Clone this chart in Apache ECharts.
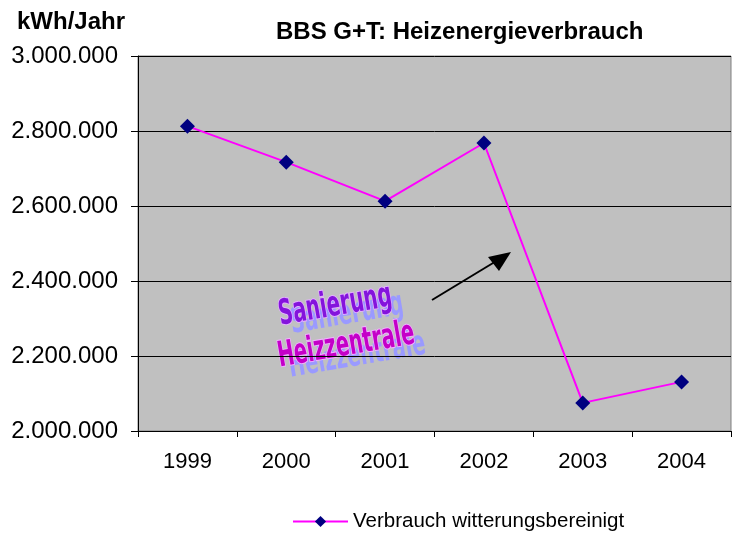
<!DOCTYPE html>
<html>
<head>
<meta charset="utf-8">
<script src="https://cdn.jsdelivr.net/npm/echarts@6/dist/echarts.min.js"></script>
<style>
  html, body { margin: 0; padding: 0; background: #fff; }
  #chart { width: 736px; height: 533px; }
</style>
</head>
<body>
<div id="chart"></div>
<script>
// Werte
const years = ['1999', '2000', '2001', '2002', '2003', '2004'];
const verbrauch = [2813000, 2717000, 2613000, 2768000, 2075000, 2131000];
const yMin = 2000000;
const yMax = 3000000;
const yStep = 200000;

const fmt = v => String(v).replace(/\B(?=(\d{3})+(?!\d))/g, '.');

const chart = echarts.init(document.getElementById('chart'));

const wordFont = 'bold 35px "DejaVu Sans Condensed", "DejaVu Sans", sans-serif';

chart.setOption({
  animation: false,
  textStyle: { fontFamily: '"Liberation Sans", Arial, sans-serif' },
  title: {
    text: 'BBS G+T: Heizenergieverbrauch',
    left: 276,
    top: 20,
    padding: 0,
    textStyle: { fontSize: 24, fontWeight: 'bold', color: '#000' }
  },
  legend: {
    left: 292,
    top: 511,
    padding: 0,
    itemWidth: 55,
    itemHeight: 14,
    itemGap: 5,
    textStyle: { fontSize: 20.5, color: '#000' },
    data: ['Verbrauch witterungsbereinigt']
  },
  grid: {
    left: 138,
    right: 5,
    top: 56,
    bottom: 102,
    show: true,
    backgroundColor: '#C0C0C0',
    borderColor: '#808080',
    borderWidth: 1
  },
  xAxis: {
    type: 'category',
    data: years,
    boundaryGap: true,
    axisLine: { lineStyle: { color: '#000', width: 1 } },
    axisTick: { show: true, length: 6, lineStyle: { color: '#000' } },
    axisLabel: { fontSize: 22, color: '#000', margin: 20 },
    splitLine: { show: false }
  },
  yAxis: {
    type: 'value',
    min: yMin,
    max: yMax,
    interval: yStep,
    name: 'kWh/Jahr',
    nameLocation: 'end',
    nameGap: 22,
    nameTextStyle: { fontSize: 24, fontWeight: 'bold', color: '#000', align: 'right', padding: [0, 13, 0, 0] },
    axisLine: { show: true, lineStyle: { color: '#000', width: 1 } },
    axisTick: { show: true, length: 7, lineStyle: { color: '#000' } },
    axisLabel: { fontSize: 24, color: '#000', margin: 20, formatter: fmt },
    splitLine: { show: true, lineStyle: { color: '#000', width: 1 } }
  },
  series: [{
    name: 'Verbrauch witterungsbereinigt',
    type: 'line',
    data: verbrauch,
    symbol: 'diamond',
    symbolSize: 15,
    lineStyle: { color: '#FF00FF', width: 2 },
    itemStyle: { color: '#000080' },
    z: 3
  }],
  graphic: [
    // Pfeil
    {
      type: 'line',
      shape: { x1: 432, y1: 300, x2: 498, y2: 260 },
      style: { stroke: '#000', lineWidth: 2 },
      z: 10
    },
    {
      type: 'polygon',
      shape: { points: [[511, 252], [488, 257], [499, 271]] },
      style: { fill: '#000' },
      z: 10
    },
    // WordArt: Schatten
    {
      type: 'group',
      x: 282, y: 333,
      rotation: 0.17,
      z: 9,
      children: [
        { type: 'text', x: 10, y: 10, scaleX: 0.63,
          style: { text: 'Sanierung', font: wordFont, fill: '#9a9aff', textVerticalAlign: 'bottom' } },
        { type: 'text', x: 1, y: 53, scaleX: 0.62,
          style: { text: 'Heizzentrale', font: wordFont, fill: '#9a9aff', textVerticalAlign: 'bottom' } }
      ]
    },
    // WordArt: Text
    {
      type: 'group',
      x: 282, y: 333,
      rotation: 0.17,
      z: 11,
      children: [
        { type: 'text', x: 0, y: 0, scaleX: 0.63,
          style: { text: 'Sanierung', font: wordFont, fill: '#8414dc', stroke: '#e4b0ff', lineWidth: 2, textVerticalAlign: 'bottom' } },
        { type: 'text', x: -8, y: 41, scaleX: 0.62,
          style: { text: 'Heizzentrale', font: wordFont, fill: '#c400c8', stroke: '#f0b0ff', lineWidth: 2, textVerticalAlign: 'bottom' } }
      ]
    }
  ]
});
</script>
</body>
</html>
